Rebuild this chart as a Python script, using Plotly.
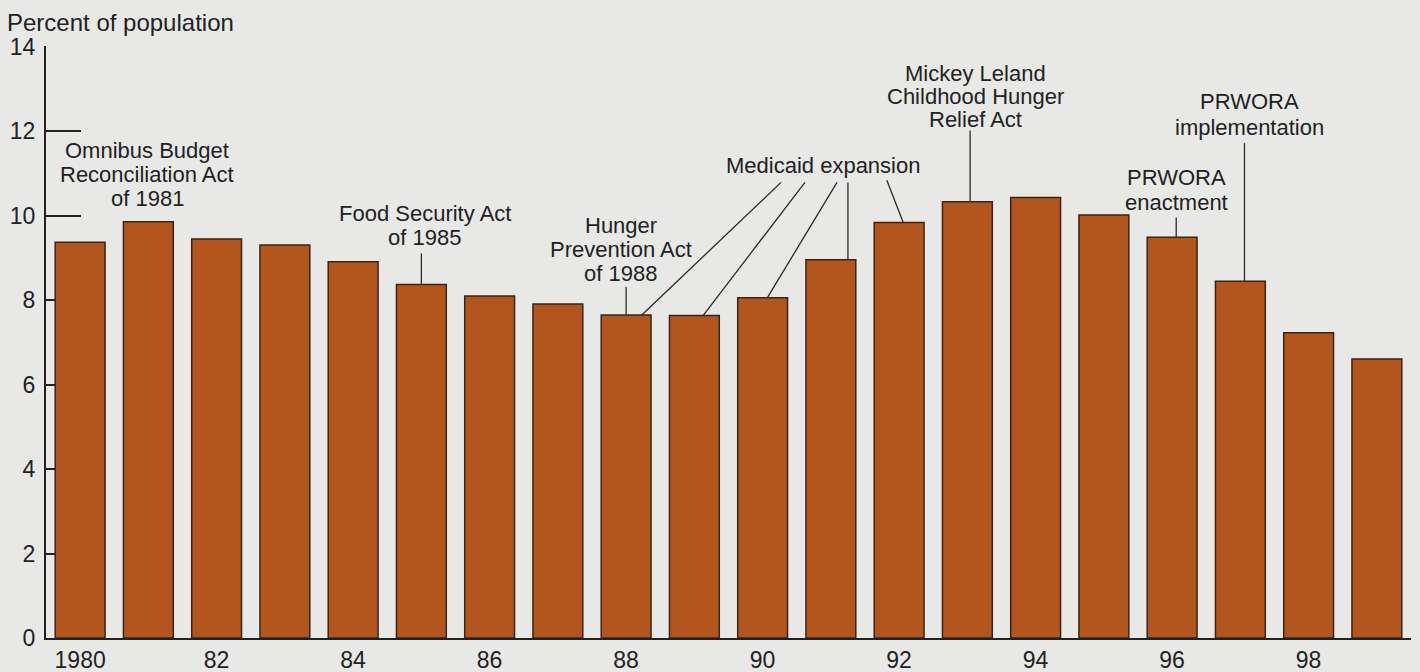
import plotly.graph_objects as go

# ---- data ----
years = list(range(1980, 2000))
values = [9.37, 9.86, 9.45, 9.31, 8.91, 8.37, 8.10, 7.91, 7.65, 7.64,
          8.06, 8.96, 9.84, 10.33, 10.43, 10.02, 9.49, 8.45, 7.23, 6.61]
tick_years = [1980, 1982, 1984, 1986, 1988, 1990, 1992, 1994, 1996, 1998]
tick_labels = ["1980", "82", "84", "86", "88", "90", "92", "94", "96", "98"]
y_ticks = [0, 2, 4, 6, 8, 10, 12, 14]
y_title = "Percent of population"

# annotation labels: lines, center x (year), y of first line (percent), line gap px
label_lines = [
    ["Omnibus Budget", "Reconciliation Act", "of 1981"],
    ["Food Security Act", "of 1985"],
    ["Hunger", "Prevention Act", "of 1988"],
    ["Medicaid expansion"],
    ["Mickey Leland", "Childhood Hunger", "Relief Act"],
    ["PRWORA", "enactment"],
    ["PRWORA", "implementation"],
]
label_x = [1980.98, 1985.05, 1987.92, 1990.89, 1993.12, 1996.06, 1997.13]
label_y = [11.55, 10.06, 9.78, 11.20, 13.37, 10.91, 12.71]
label_gap = [24, 24, 24, 24, 23, 25, 26]

# leader lines: (x0, y0) near label -> (x1, y1) on bar top
lead_x0 = [1985.0, 1988.0, 1990.27, 1990.62, 1991.09, 1991.25, 1991.82, 1993.04, 1996.06, 1997.06]
lead_y0 = [9.11, 8.31, 10.79, 10.79, 10.79, 10.79, 10.84, 12.02, 9.96, 11.72]
lead_x1 = [1985.0, 1988.0, 1988.23, 1989.13, 1990.07, 1991.25, 1992.06, 1993.04, 1996.06, 1997.06]
lead_y1 = [8.37, 7.65, 7.65, 7.64, 8.06, 8.96, 9.84, 10.33, 9.49, 8.45]

BG = "#e8e8e6"
BAR = "#b3561d"
INK = "#222222"
FONT = "Liberation Sans, Arial, Helvetica, sans-serif"

fig = go.Figure()
fig.add_trace(go.Bar(
    x=years, y=values,
    width=0.73,
    marker=dict(color=BAR, line=dict(color="#3a2416", width=1.5)),
    hoverinfo="x+y",
))

annotations = []
for lines, lx, ly, gap in zip(label_lines, label_x, label_y, label_gap):
    for i, t in enumerate(lines):
        annotations.append(dict(
            text=t, x=lx, y=ly, xref="x", yref="y",
            xanchor="center", yanchor="middle", yshift=-i * gap,
            showarrow=False, borderpad=0,
            font=dict(family=FONT, size=22, color=INK),
        ))
annotations.append(dict(
    text=y_title, xref="paper", yref="paper", x=0, y=1,
    xanchor="left", yanchor="middle", xshift=-41, yshift=24,
    showarrow=False, font=dict(family=FONT, size=24, color=INK),
))

shapes = []
for x0, y0, x1, y1 in zip(lead_x0, lead_y0, lead_x1, lead_y1):
    shapes.append(dict(type="line", xref="x", yref="y", x0=x0, y0=y0, x1=x1, y1=y1,
                       line=dict(color="#2a2a2a", width=1.3), layer="above"))

fig.update_layout(
    width=1420, height=672,
    margin=dict(l=46, r=9, t=46, b=34, autoexpand=False),
    paper_bgcolor=BG, plot_bgcolor=BG,
    showlegend=False,
    bargap=0.27,
    annotations=annotations,
    shapes=shapes,
    font=dict(family=FONT, color=INK),
)
fig.update_xaxes(
    range=[1979.5, 1999.5],
    tickmode="array", tickvals=tick_years, ticktext=tick_labels,
    showgrid=False, zeroline=False,
    showline=True, linecolor=INK, linewidth=2,
    ticks="", tickfont=dict(family=FONT, size=23, color=INK),
    ticklabelstandoff=0, automargin=False,
    fixedrange=True,
)
fig.update_yaxes(
    range=[0, 14.02],
    tickmode="array", tickvals=y_ticks,
    showgrid=False, zeroline=False,
    showline=True, linecolor=INK, linewidth=2,
    ticks="inside", ticklen=35, tickwidth=2, tickcolor=INK,
    tickfont=dict(family=FONT, size=23, color=INK),
    ticklabelstandoff=4, automargin=False,
    layer="below traces",
    fixedrange=True,
)

fig.write_html(
    "out.html",
    config={"displayModeBar": False},
    post_script="document.body.style.margin='0';document.body.style.padding='0';document.body.style.overflow='hidden';",
)
